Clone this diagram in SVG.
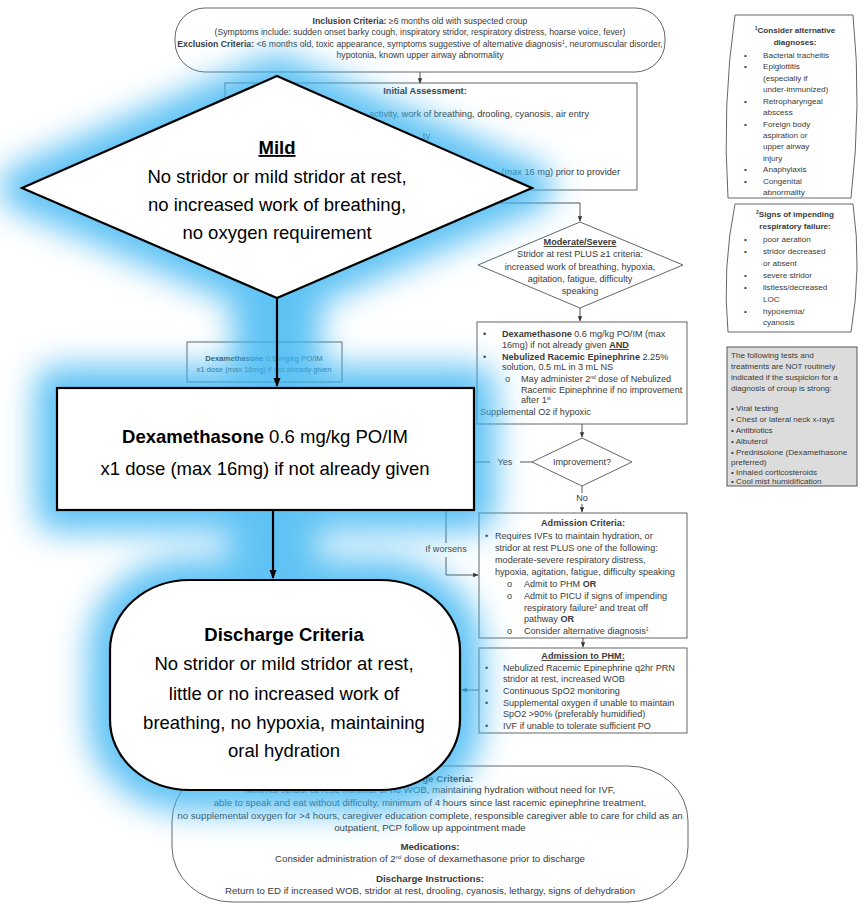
<svg xmlns="http://www.w3.org/2000/svg" width="864" height="904" viewBox="0 0 864 904">
<defs>
<style>
.t{font-family:"Liberation Sans",Arial,sans-serif;font-size:7.6px;fill:#3a3a3a}
.top .t{font-size:8.7px}
.ini .t{font-size:9.2px}
.rc .t{font-size:9.1px}
.bot .t{font-size:9.7px}
.sb .t{font-size:8.1px}
.b{font-weight:bold}
.m{text-anchor:middle}
.u{text-decoration:underline}
.bg{fill:none;stroke:#555;stroke-width:0.9}
.big{font-family:"Liberation Sans",Arial,sans-serif;font-size:18.5px;fill:#000;text-anchor:middle}
.ov{fill:#fff;stroke:#000;stroke-width:2.2}
.cn{stroke:#444;stroke-width:0.9;fill:none}
.cb{stroke:#000;stroke-width:2.2;fill:none}
.gl{fill:#38b4f2;stroke:#38b4f2;stroke-width:44;stroke-linejoin:round}
</style>
<marker id="a" viewBox="0 0 10 10" refX="9" refY="5" markerWidth="6" markerHeight="6" orient="auto"><path d="M0,1 L10,5 L0,9 Z" fill="#333"/></marker>
<marker id="A" viewBox="0 0 10 10" refX="9" refY="5" markerWidth="4" markerHeight="4" orient="auto"><path d="M0,1 L10,5 L0,9 Z" fill="#000"/></marker>
<filter id="blur" x="-30%" y="-30%" width="160%" height="160%"><feGaussianBlur stdDeviation="16"/></filter>
</defs>
<rect width="864" height="904" fill="#fff"/>

<!-- background flowchart -->
<g id="inclusion" class="top">
<rect class="bg" x="175" y="8" width="490" height="64" rx="30" ry="30"/>
<text class="t m" x="420" y="24"><tspan class="b">Inclusion Criteria:</tspan> ≥6 months old with suspected croup</text>
<text class="t m" x="420" y="35">(Symptoms include: sudden onset barky cough, inspiratory stridor, respiratory distress, hoarse voice, fever)</text>
<text class="t m" x="420" y="47"><tspan class="b">Exclusion Criteria:</tspan> &lt;6 months old, toxic appearance, symptoms suggestive of alternative diagnosis<tspan baseline-shift="super" font-size="5">1</tspan>, neuromuscular disorder,</text>
<text class="t m" x="420" y="58">hypotonia, known upper airway abnormality</text>
</g>
<g id="initial" class="ini">
<rect class="bg" x="225" y="83" width="412" height="107"/>
<text class="t b m" x="425" y="94">Initial Assessment:</text>
<text class="t" x="589" y="117" text-anchor="end">activity, work of breathing, drooling, cyanosis, air entry</text>
<text class="t" x="430" y="139" text-anchor="end">ty</text>
<text class="t" x="620" y="175" text-anchor="end">(max 16 mg) prior to provider</text>
</g>
<g id="dex-small">
<rect class="bg" x="187" y="342" width="155" height="40"/>
<text class="t m" x="264" y="361"><tspan class="b">Dexamethasone</tspan> 0.6 mg/kg PO/IM</text>
<text class="t m" x="264" y="372">x1 dose (max 16mg) if not already given</text>
</g>
<g id="modsev" class="rc">
<path class="bg" d="M580,222 L683,265 L580,308 L478,265 Z"/>
<text class="t b m u" x="580" y="245">Moderate/Severe</text>
<text class="t m" x="580" y="257">Stridor at rest PLUS ≥1 criteria:</text>
<text class="t m" x="580" y="270">increased work of breathing, hypoxia,</text>
<text class="t m" x="580" y="282">agitation, fatigue, difficulty</text>
<text class="t m" x="580" y="294">speaking</text>
</g>
<g id="treat" class="rc">
<rect class="bg" x="477" y="322" width="210" height="102"/>
<text class="t" x="483" y="337">•</text>
<text class="t" x="502" y="337"><tspan class="b">Dexamethasone</tspan> 0.6 mg/kg PO/IM (max</text>
<text class="t" x="502" y="348">16mg) if not already given <tspan class="b u">AND</tspan></text>
<text class="t" x="483" y="360">•</text>
<text class="t" x="502" y="360"><tspan class="b">Nebulized Racemic Epinephrine</tspan> 2.25%</text>
<text class="t" x="502" y="370">solution, 0.5 mL in 3 mL NS</text>
<text class="t" x="505" y="382">o</text>
<text class="t" x="521" y="382">May administer 2<tspan baseline-shift="super" font-size="5">nd</tspan> dose of Nebulized</text>
<text class="t" x="521" y="393">Racemic Epinephrine if no improvement</text>
<text class="t" x="521" y="403">after 1<tspan baseline-shift="super" font-size="5">st</tspan></text>
<text class="t" x="480" y="415">Supplemental O2 if hypoxic</text>
</g>
<g id="improve" class="rc">
<path class="bg" d="M582,438 L632,462 L582,486 L532,462 Z"/>
<text class="t m" x="582" y="465">Improvement?</text>
</g>
<g id="admission" class="rc">
<rect class="bg" x="479" y="513" width="208" height="125"/>
<text class="t b m" x="583" y="526">Admission Criteria:</text>
<text class="t" x="485" y="539">•</text>
<text class="t" x="495" y="539">Requires IVFs to maintain hydration, or</text>
<text class="t" x="495" y="551">stridor at rest PLUS one of the following:</text>
<text class="t" x="495" y="563">moderate-severe respiratory distress,</text>
<text class="t" x="495" y="575">hypoxia, agitation, fatigue, difficulty speaking</text>
<text class="t" x="507" y="587">o</text>
<text class="t" x="524" y="587">Admit to PHM <tspan class="b">OR</tspan></text>
<text class="t" x="507" y="599">o</text>
<text class="t" x="524" y="599">Admit to PICU if signs of impending</text>
<text class="t" x="524" y="611">respiratory failure<tspan baseline-shift="super" font-size="5">2</tspan> and treat off</text>
<text class="t" x="524" y="622">pathway <tspan class="b">OR</tspan></text>
<text class="t" x="507" y="634">o</text>
<text class="t" x="524" y="634">Consider alternative diagnosis<tspan baseline-shift="super" font-size="5">1</tspan></text>
</g>
<g id="phm" class="rc">
<rect class="bg" x="479" y="648" width="208" height="85"/>
<text class="t b m u" x="583" y="659">Admission to PHM:</text>
<text class="t" x="485" y="671">•</text>
<text class="t" x="503" y="671">Nebulized Racemic Epinephrine q2hr PRN</text>
<text class="t" x="503" y="682">stridor at rest, increased WOB</text>
<text class="t" x="485" y="694">•</text>
<text class="t" x="503" y="694">Continuous SpO2 monitoring</text>
<text class="t" x="485" y="706">•</text>
<text class="t" x="503" y="706">Supplemental oxygen if unable to maintain</text>
<text class="t" x="503" y="717">SpO2 &gt;90% (preferably humidified)</text>
<text class="t" x="485" y="729">•</text>
<text class="t" x="503" y="729">IVF if unable to tolerate sufficient PO</text>
</g>
<g id="discharge-bottom" class="bot">
<rect class="bg" x="172" y="766" width="516" height="136" rx="60" ry="55"/>
<text class="t b m" x="430" y="782">Discharge Criteria:</text>
<text class="t m" x="430" y="793">Minimal stridor at rest, minimal or no WOB, maintaining hydration without need for IVF,</text>
<text class="t m" x="430" y="806">able to speak and eat without difficulty, minimum of 4 hours since last racemic epinephrine treatment,</text>
<text class="t m" x="430" y="819">no supplemental oxygen for &gt;4 hours, caregiver education complete, responsible caregiver able to care for child as an</text>
<text class="t m" x="430" y="831">outpatient, PCP follow up appointment made</text>
<text class="t b m" x="430" y="850">Medications:</text>
<text class="t m" x="430" y="862">Consider administration of 2<tspan baseline-shift="super" font-size="5">nd</tspan> dose of dexamethasone prior to discharge</text>
<text class="t b m" x="430" y="882">Discharge Instructions:</text>
<text class="t m" x="430" y="894">Return to ED if increased WOB, stridor at rest, drooling, cyanosis, lethargy, signs of dehydration</text>
</g>
<g id="side-alt" class="sb">
<path class="bg" d="M735,15 L853,15 Q862,105 851,198 L728,198 Q722,105 735,15 Z"/>
<text class="t b m" x="795" y="33"><tspan baseline-shift="super" font-size="5">1</tspan>Consider alternative</text>
<text class="t b m" x="795" y="45">diagnoses:</text>
<text class="t" x="744" y="58">•</text><text class="t" x="763" y="58">Bacterial tracheitis</text>
<text class="t" x="744" y="69">•</text><text class="t" x="763" y="69">Epiglottitis</text>
<text class="t" x="763" y="81">(especially if</text>
<text class="t" x="763" y="92">under-immunized)</text>
<text class="t" x="744" y="104">•</text><text class="t" x="763" y="104">Retropharyngeal</text>
<text class="t" x="763" y="115">abscess</text>
<text class="t" x="744" y="127">•</text><text class="t" x="763" y="127">Foreign body</text>
<text class="t" x="763" y="138">aspiration or</text>
<text class="t" x="763" y="149">upper airway</text>
<text class="t" x="763" y="161">injury</text>
<text class="t" x="744" y="172">•</text><text class="t" x="763" y="172">Anaphylaxis</text>
<text class="t" x="744" y="184">•</text><text class="t" x="763" y="184">Congenital</text>
<text class="t" x="763" y="195">abnormality</text>
</g>
<g id="side-resp" class="sb">
<path class="bg" d="M735,204 L853,204 Q862,268 851,332 L728,332 Q722,268 735,204 Z"/>
<text class="t b m" x="795" y="217"><tspan baseline-shift="super" font-size="5">2</tspan>Signs of impending</text>
<text class="t b m" x="795" y="229">respiratory failure:</text>
<text class="t" x="744" y="242">•</text><text class="t" x="763" y="242">poor aeration</text>
<text class="t" x="744" y="254">•</text><text class="t" x="763" y="254">stridor decreased</text>
<text class="t" x="763" y="266">or absent</text>
<text class="t" x="744" y="278">•</text><text class="t" x="763" y="278">severe stridor</text>
<text class="t" x="744" y="290">•</text><text class="t" x="763" y="290">listless/decreased</text>
<text class="t" x="763" y="302">LOC</text>
<text class="t" x="744" y="314">•</text><text class="t" x="763" y="314">hypoxemia/</text>
<text class="t" x="763" y="325">cyanosis</text>
</g>
<g id="side-not" class="sb">
<rect x="727" y="347" width="130" height="139" fill="#dcdcdc" stroke="#444" stroke-width="0.9"/>
<text class="t" x="731" y="358">The following tests and</text>
<text class="t" x="731" y="369">treatments are NOT routinely</text>
<text class="t" x="731" y="380">indicated if the suspicion for a</text>
<text class="t" x="731" y="391">diagnosis of croup is strong:</text>
<text class="t" x="731" y="411">• Viral testing</text>
<text class="t" x="731" y="422">• Chest or lateral neck x-rays</text>
<text class="t" x="731" y="433">• Antibiotics</text>
<text class="t" x="731" y="444">• Albuterol</text>
<text class="t" x="731" y="455">• Prednisolone (Dexamethasone</text>
<text class="t" x="731" y="465">preferred)</text>
<text class="t" x="731" y="475">• Inhaled corticosteroids</text>
<text class="t" x="731" y="484">• Cool mist humidification</text>
</g>
<g id="bg-connectors" class="rc">
<path class="cn" d="M420,72 L420,83" marker-end="url(#a)"/>
<path class="cn" d="M460,203 L580,203 L580,221" marker-end="url(#a)"/>
<path class="cn" d="M580,308 L580,321" marker-end="url(#a)"/>
<path class="cn" d="M582,424 L582,437" marker-end="url(#a)"/>
<path class="cn" d="M532,462 L520,462"/>
<path class="cn" d="M490,462 L474,462"/>
<text class="t m" x="505" y="465">Yes</text>
<path class="cn" d="M582,486 L582,493"/>
<text class="t m" x="582" y="501">No</text>
<path class="cn" d="M582,504 L582,512" marker-end="url(#a)"/>
<path class="cn" d="M446,510 L446,543"/>
<text class="t m" x="446" y="552">If worsens</text>
<path class="cn" d="M446,557 L446,575 L478,575" marker-end="url(#a)"/>
<path class="cn" d="M583,638 L583,647" marker-end="url(#a)"/>
<path class="cn" d="M479,690 L462,690" marker-end="url(#a)"/>
</g>

<!-- glow highlight -->
<g id="glow" filter="url(#blur)" opacity="0.8">
<path class="gl" d="M277,76 L532,188 L277,298 L22,188 Z"/>
<rect class="gl" x="255" y="290" width="44" height="100"/>
<rect class="gl" x="57" y="388" width="417" height="122"/>
<rect class="gl" x="251" y="505" width="44" height="80"/>
<rect class="gl" x="110" y="580" width="350" height="210" rx="80" ry="70"/>
</g>

<!-- highlighted overlay -->
<g id="overlay-connectors">
<path class="cb" d="M277,298 L277,386" marker-end="url(#A)"/>
<path class="cb" d="M273,510 L273,578" marker-end="url(#A)"/>
</g>
<g id="mild">
<path class="ov" d="M277,76 L532,188 L277,298 L22,188 Z"/>
<text class="big b u" x="277" y="154">Mild</text>
<text class="big" x="277" y="183">No stridor or mild stridor at rest,</text>
<text class="big" x="277" y="211">no increased work of breathing,</text>
<text class="big" x="277" y="239">no oxygen requirement</text>
</g>
<g id="dex">
<rect class="ov" x="57" y="388" width="417" height="122"/>
<text class="big" x="265" y="443"><tspan font-weight="bold">Dexamethasone</tspan> 0.6 mg/kg PO/IM</text>
<text class="big" x="265" y="475">x1 dose (max 16mg) if not already given</text>
</g>
<g id="discharge">
<rect class="ov" x="110" y="580" width="350" height="210" rx="80" ry="70"/>
<text class="big b" x="284" y="641">Discharge Criteria</text>
<text class="big" x="284" y="670">No stridor or mild stridor at rest,</text>
<text class="big" x="284" y="700">little or no increased work of</text>
<text class="big" x="284" y="729">breathing, no hypoxia, maintaining</text>
<text class="big" x="284" y="757">oral hydration</text>
</g>
</svg>
